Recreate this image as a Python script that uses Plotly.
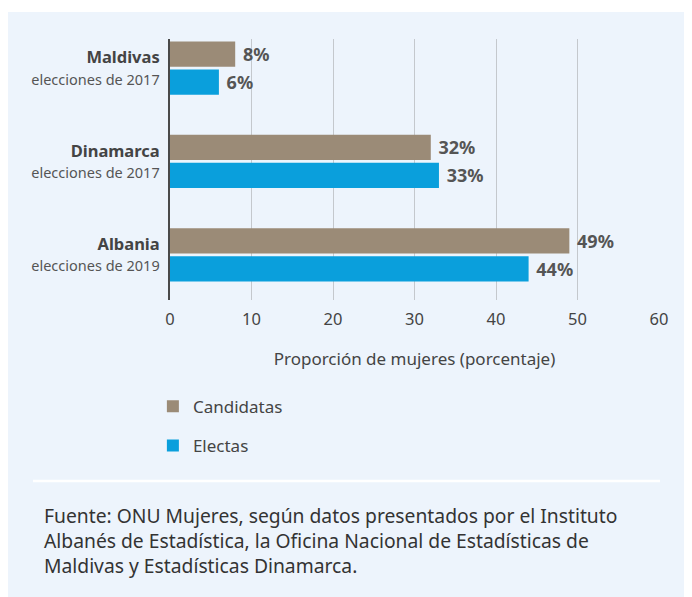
import plotly.graph_objects as go

# datos
paises = ["Maldivas", "Dinamarca", "Albania"]
elecciones = ["elecciones de 2017", "elecciones de 2017", "elecciones de 2019"]
candidatas = [8, 32, 49]
electas = [6, 33, 44]
x_ticks = [0, 10, 20, 30, 40, 50, 60]

fuente = ("Fuente: ONU Mujeres, según datos presentados por el Instituto<br>"
          "Albanés de Estadística, la Oficina Nacional de Estadísticas de<br>"
          "Maldivas y Estadísticas Dinamarca.")

FONT = "Noto Sans"
BG = "#edf4fc"

y_text = ["<b>%s</b><br><span style='font-size:14.5px;color:#555'>%s</span>" % (p, e)
          for p, e in zip(paises, elecciones)]

fig = go.Figure()
fig.add_trace(go.Bar(
    y=paises, x=candidatas, name="Candidatas", orientation="h",
    marker=dict(color="#9b8b77", line=dict(width=0)),
    text=[" %d%%" % v for v in candidatas], textposition="outside",
    textfont=dict(size=18, color="#555", family=FONT, weight="bold"),
    cliponaxis=False, legendgroup="a"))
fig.add_trace(go.Bar(
    y=paises, x=electas, name="Electas", orientation="h",
    marker=dict(color="#0a9fdc", line=dict(width=0)),
    text=[" %d%%" % v for v in electas], textposition="outside",
    textfont=dict(size=18, color="#555", family=FONT, weight="bold"),
    cliponaxis=False, legendgroup="b"))

# área del gráfico: 162..651 x 32..292 (px de la figura)
fig.update_layout(
    width=692, height=597,
    margin=dict(l=162, r=41, t=31, b=305),
    paper_bgcolor=BG, plot_bgcolor=BG,
    font=dict(family=FONT, color="#444"),
    barmode="group", bargap=0.4, bargroupgap=0.1,
    showlegend=True,
    legend=dict(x=-0.035, y=-0.34, xanchor="left", yanchor="top",
                tracegroupgap=14, bgcolor="rgba(0,0,0,0)",
                font=dict(size=17, color="#444", family=FONT)),
    xaxis=dict(range=[0, 60], tickvals=x_ticks, showgrid=True,
               gridcolor="#c4c8cd", gridwidth=1, zeroline=False,
               showline=False, ticks="", ticklabelstandoff=7,
               tickfont=dict(size=16.5, color="#444"),
               title=dict(text="Proporción de mujeres (porcentaje)",
                          font=dict(size=17, color="#444"), standoff=24)),
    yaxis=dict(categoryorder="array", categoryarray=paises,
               range=[2.484, -0.312], tickvals=paises, ticktext=y_text,
               showline=True, linecolor="#4a4a4a", linewidth=2,
               showgrid=False, ticks="", ticklabelstandoff=5,
               tickfont=dict(size=16.5, color="#444")),
    shapes=[
        # borde blanco superior
        dict(type="rect", xref="paper", yref="paper", layer="below",
             x0=-162 / 489, x1=530 / 489, y0=288 / 261, y1=293 / 261,
             fillcolor="white", line=dict(width=0)),
        # línea separadora
        dict(type="line", xref="paper", yref="paper",
             x0=-137 / 489, x1=490 / 489, y0=-181 / 261, y1=-181 / 261,
             line=dict(color="white", width=2.5)),
    ],
    annotations=[dict(
        text=fuente, xref="paper", yref="paper", x=-128 / 489, y=-200 / 261,
        xanchor="left", yanchor="top", align="left", showarrow=False,
        font=dict(size=19.3, color="#333", family=FONT))],
)

fig.write_html("out.html")
